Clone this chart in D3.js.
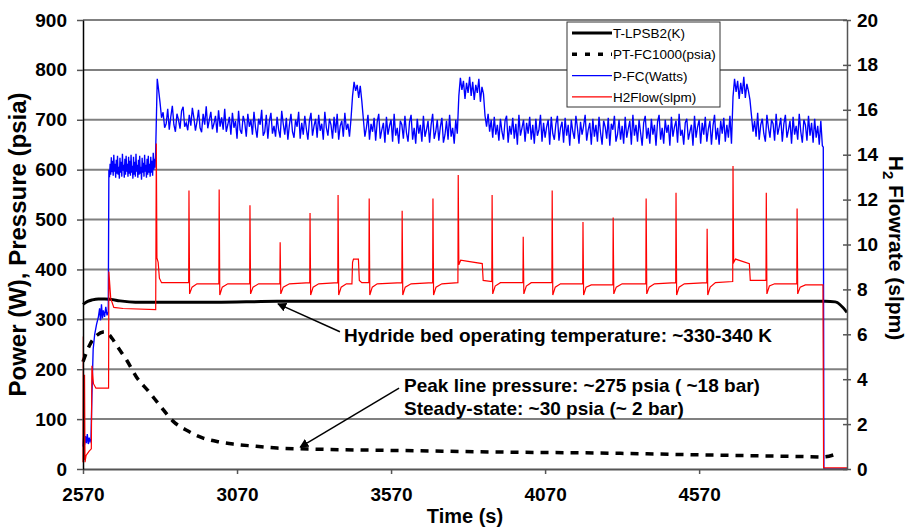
<!DOCTYPE html>
<html>
<head>
<meta charset="utf-8">
<script src="https://cdn.jsdelivr.net/npm/d3@7"></script>
<style>
  body { margin: 0; background: #fff; }
  text { font-family: "Liberation Sans", Arial, sans-serif; }
</style>
</head>
<body>
<div id="container"></div>
<script>
const width = 913;
const height = 529;
const margin = { top: 20, right: 66, bottom: 60, left: 83 };

// axis ticks
const timeTicks = [2570, 3070, 3570, 4070, 4570];
const powerTicks = [0, 100, 200, 300, 400, 500, 600, 700, 800, 900];
const flowTicks = [0, 2, 4, 6, 8, 10, 12, 14, 16, 18, 20];

// T-LPSB2 (K), left axis  [time, value]
const tempK = [
  [2570, 330], [2585, 336], [2600, 339], [2620, 341], [2640, 341], [2660, 340],
  [2690, 337], [2720, 335], [2760, 334], [2800, 334], [2900, 334], [3000, 334],
  [3200, 336], [3600, 336], [4000, 336], [4500, 336], [4980, 336], [5012, 335],
  [5050, 314]
];

// PT-FC1000 (psia), left axis
const linePressure = [
  [2570, 215], [2593, 250], [2615, 268], [2641, 275], [2664, 262], [2680, 247],
  [2713, 217], [2745, 183], [2781, 157], [2820, 127], [2862, 96], [2911, 76],
  [2960, 62], [3015, 54], [3057, 50], [3122, 46], [3200, 42], [3307, 40],
  [3600, 37], [3924, 34], [4249, 32], [4606, 28], [4898, 25], [4970, 24],
  [5015, 30]
];

// P-FC (Watts), left axis: start-up part read as pairs
const powerStart = [
  [2570, 45], [2572, 62], [2575, 48], [2578, 66], [2581, 52], [2584, 70], [2587, 50],
  [2590, 63], [2593, 55], [2596, 60], [2599, 150], [2603, 240], [2608, 270],
  [2614, 290], [2620, 305], [2624, 322], [2627, 298], [2630, 330], [2633, 302],
  [2636, 318], [2640, 305], [2644, 325], [2648, 308], [2652, 315], [2654, 600],
  [2656, 585], [2658, 612], [2660, 590], [2662, 625], [2664, 595], [2666, 618],
  [2668, 588], [2670, 630], [2672, 596], [2674, 612], [2676, 584], [2678, 620],
  [2680, 592], [2682, 628], [2684, 590], [2686, 606], [2688, 582], [2690, 624],
  [2692, 594], [2694, 616], [2696, 586], [2698, 632], [2700, 598], [2702, 610],
  [2704, 584], [2706, 622], [2708, 590], [2710, 628], [2712, 596], [2714, 612],
  [2716, 586], [2718, 626], [2720, 592], [2722, 618], [2724, 588], [2726, 630],
  [2728, 594], [2730, 608], [2732, 582], [2734, 626], [2736, 590], [2738, 616],
  [2740, 586], [2742, 632], [2744, 596], [2746, 610], [2748, 584], [2750, 620],
  [2752, 590], [2754, 628], [2756, 592], [2758, 606], [2760, 580], [2762, 624],
  [2764, 594], [2766, 614], [2768, 586], [2770, 630], [2772, 596], [2774, 610],
  [2776, 584], [2778, 622], [2780, 590], [2782, 628], [2784, 594], [2786, 612],
  [2788, 586], [2790, 626], [2792, 594], [2794, 618], [2796, 588], [2798, 634],
  [2800, 600], [2802, 622], [2804, 604], [2806, 640], [2811, 782], [2815, 762],
  [2820, 735], [2825, 704]
];

// P-FC (Watts), steady running, one reading every 5 s from 2830 s
const powerT0 = 2830;
const powerDt = 5;
const powerRun = [
  715, 684, 692, 722, 680, 706, 728, 690, 676, 712, 700, 682, 718, 726, 686, 694, 679, 710, 688, 724,
  704, 678, 696, 720, 684, 675, 712, 690, 727, 683, 700, 716, 681, 692, 708, 674, 719, 686, 705, 680,
  722, 676, 690, 706, 670, 714, 684, 698, 662, 718, 680, 672, 708, 695, 666, 712, 686, 700, 670, 716,
  684, 664, 702, 690, 720, 668, 676, 710, 662, 698, 714, 672, 688, 666, 706, 680, 664, 718, 692, 670,
  704, 660, 690, 712, 676, 664, 700, 686, 716, 662, 694, 670, 708, 682, 660, 698, 714, 668, 688, 702,
  664, 710, 678, 692, 660, 716, 684, 668, 702, 690, 662, 706, 674, 712, 660, 688, 698, 666, 714, 680,
  692, 666, 702, 748, 776, 758, 770, 744, 768, 738, 702, 666, 684, 710, 660, 692, 676, 704, 658, 696,
  712, 662, 680, 694, 654, 706, 670, 688, 700, 656, 712, 668, 684, 652, 698, 690, 662, 708, 674, 656,
  696, 710, 660, 684, 652, 702, 672, 690, 656, 708, 666, 680, 698, 654, 690, 712, 662, 676, 700, 658,
  686, 704, 654, 670, 698, 660, 710, 666, 684, 652, 700, 672, 748, 784, 760, 778, 742, 774, 754, 786,
  748, 776, 740, 770, 754, 782, 736, 766, 752, 708, 686, 712, 676, 700, 664, 706, 670, 690, 658, 702,
  676, 660, 698, 708, 654, 688, 670, 704, 662, 692, 650, 710, 668, 684, 700, 656, 694, 672, 706, 660,
  690, 652, 702, 668, 680, 710, 656, 694, 664, 686, 700, 650, 706, 672, 660, 692, 708, 658, 684, 696,
  654, 704, 668, 690, 648, 700, 676, 662, 708, 684, 652, 696, 670, 688, 710, 658, 680, 694, 650, 702,
  666, 690, 656, 706, 674, 650, 698, 686, 662, 704, 648, 692, 680, 708, 656, 670, 700, 660, 688, 652,
  706, 664, 682, 698, 650, 710, 668, 690, 656, 700, 674, 648, 694, 708, 662, 684, 652, 702, 670, 690,
  648, 696, 710, 660, 684, 652, 700, 674, 690, 648, 706, 666, 686, 698, 654, 712, 668, 680, 650, 694,
  702, 660, 676, 690, 648, 708, 664, 686, 700, 652, 694, 670, 706, 656, 682, 698, 650, 688, 710, 660,
  684, 650, 698, 672, 704, 656, 690, 664, 708, 652, 746, 782, 756, 778, 742, 774, 752, 786, 744, 772,
  758, 740, 708, 676, 698, 666, 714, 660, 690, 702, 672, 656, 710, 684, 664, 700, 692, 658, 712, 670,
  686, 704, 656, 692, 710, 664, 680, 698, 652, 706, 670, 688, 660, 712, 676, 654, 700, 690, 658, 708,
  668, 694, 654, 702, 664, 688, 650, 698, 648
];

// P-FC (Watts), shut-down
const powerEnd = [[4973, 645], [4975, 0], [5050, 0]];

// H2Flow (slpm), right axis
const h2Flow = [
  [2570, 0.3], [2571, 5.9], [2572.5, 0.4], [2575, 4.2], [2576.5, 0.3], [2580, 0.6],
  [2590, 0.8], [2597, 0.9], [2599, 4.6], [2604, 3.8], [2612, 3.6], [2653, 3.6],
  [2654, 8.8], [2660, 7.6], [2670, 7.2], [2700, 7.15], [2806, 7.1],
  [2808, 14.5], [2810, 9.4], [2814, 9.2], [2818, 8.5], [2825, 8.3], [2913, 8.3],
  [2914, 12.4], [2916, 7.8], [2924, 8.1], [2940, 8.25], [3011, 8.25],
  [3012, 12.45], [3014, 7.75], [3022, 8.1], [3040, 8.25], [3111, 8.25],
  [3112, 11.75], [3114, 7.8], [3122, 8.1], [3140, 8.25], [3209, 8.25],
  [3210, 10.1], [3212, 7.8], [3220, 8.1], [3240, 8.25], [3306, 8.3],
  [3307, 11.4], [3309, 7.75], [3317, 8.1], [3335, 8.25], [3397, 8.3],
  [3398, 12.2], [3400, 7.75], [3408, 8.1], [3425, 8.25], [3443, 8.25],
  [3445, 9.2], [3448, 9.35], [3464, 9.35], [3467, 8.4], [3475, 8.3], [3498, 8.3],
  [3499, 12.05], [3501, 7.75], [3509, 8.1], [3525, 8.25], [3605, 8.3],
  [3606, 11.5], [3608, 7.75], [3616, 8.1], [3635, 8.25], [3705, 8.3],
  [3706, 12.05], [3708, 7.75], [3716, 8.1], [3735, 8.25], [3787, 8.3],
  [3788, 13.1], [3790, 9.1], [3796, 9.3], [3820, 9.25], [3866, 9.15], [3869, 8.4], [3897, 8.35],
  [3898, 12.2], [3900, 7.8], [3908, 8.15], [3925, 8.3], [3998, 8.3],
  [3999, 10.35], [4001, 7.8], [4009, 8.15], [4025, 8.3], [4092, 8.3],
  [4093, 12.4], [4095, 7.75], [4103, 8.1], [4120, 8.25], [4192, 8.25],
  [4193, 11.0], [4195, 7.75], [4203, 8.1], [4220, 8.2], [4290, 8.2],
  [4291, 11.2], [4293, 7.8], [4301, 8.1], [4320, 8.25], [4397, 8.25],
  [4398, 12.05], [4400, 7.8], [4408, 8.1], [4425, 8.25], [4494, 8.3],
  [4495, 12.3], [4497, 7.75], [4505, 8.1], [4522, 8.25], [4595, 8.3],
  [4596, 10.7], [4598, 7.75], [4606, 8.1], [4623, 8.3], [4679, 8.35],
  [4680, 13.5], [4682, 9.2], [4688, 9.35], [4733, 9.15], [4736, 8.4], [4787, 8.4],
  [4788, 12.3], [4790, 7.8], [4798, 8.15], [4815, 8.25], [4887, 8.25],
  [4888, 11.6], [4890, 7.8], [4898, 8.1], [4915, 8.2], [4972, 8.2],
  [4974, 0.05], [5050, 0.05]
];

const legendNames = ["T-LPSB2(K)", "PT-FC1000(psia)", "P-FC(Watts)", "H2Flow(slpm)"];

// annotations in data units
const notes = [
  { lines: ["Hydride bed operating temperature: ~330-340 K"], at: [3417, 255], tail: [3404, 275], tip: [3203, 331] },
  { lines: ["Peak line pressure: ~275 psia ( ~18 bar)", "Steady-state: ~30 psia (~ 2 bar)"], at: [3612, 154], tail: [3596, 162], tip: [3275, 44] }
];

const x = d3.scaleLinear().domain([2570, 5050]).range([margin.left, width - margin.right]);
const yLeft = d3.scaleLinear().domain([0, 900]).range([height - margin.bottom, margin.top]);
const yRight = d3.scaleLinear().domain([0, 20]).range([height - margin.bottom, margin.top]);

const svg = d3.select("#container").append("svg")
  .attr("width", width)
  .attr("height", height);

svg.append("defs").append("marker")
  .attr("id", "arrow")
  .attr("viewBox", "0 0 10 10")
  .attr("refX", 9).attr("refY", 5)
  .attr("markerWidth", 9).attr("markerHeight", 9)
  .attr("markerUnits", "userSpaceOnUse")
  .attr("orient", "auto")
  .append("path")
  .attr("d", "M0,0L10,5L0,10z")
  .attr("fill", "#000");

// gridlines
svg.append("g")
  .selectAll("line")
  .data(powerTicks.filter(d => d > 0))
  .enter().append("line")
  .attr("x1", x(2570)).attr("x2", x(5050))
  .attr("y1", d => yLeft(d)).attr("y2", d => yLeft(d))
  .attr("stroke", "#808080")
  .attr("stroke-width", 2);

// series
const pairLine = (ys, curve) => d3.line()
  .x(d => x(d[0])).y(d => ys(d[1]))
  .curve(curve || d3.curveLinear);

const powerAll = powerStart
  .concat(powerRun.map((v, i) => [powerT0 + i * powerDt, v]))
  .concat(powerEnd);

svg.append("path").datum(tempK)
  .attr("d", pairLine(yLeft, d3.curveMonotoneX))
  .attr("fill", "none").attr("stroke", "#000").attr("stroke-width", 3);

svg.append("path").datum(linePressure)
  .attr("d", pairLine(yLeft, d3.curveMonotoneX))
  .attr("fill", "none").attr("stroke", "#000").attr("stroke-width", 3.5)
  .attr("stroke-dasharray", "8,7");

svg.append("path").datum(powerAll)
  .attr("d", pairLine(yLeft))
  .attr("fill", "none").attr("stroke", "#0000ff").attr("stroke-width", 1.35);

svg.append("path").datum(h2Flow)
  .attr("d", pairLine(yRight))
  .attr("fill", "none").attr("stroke", "#ff0000").attr("stroke-width", 1.2);

// axes
const bold = "bold";
const xAxis = svg.append("g")
  .attr("transform", "translate(0," + (height - margin.bottom) + ")")
  .call(d3.axisBottom(x).tickValues(timeTicks).tickFormat(d3.format("d")).tickSize(5).tickSizeOuter(0).tickPadding(14));
xAxis.select(".domain").attr("stroke", "#555").attr("stroke-width", 2);

const yAxisL = svg.append("g")
  .attr("transform", "translate(" + margin.left + ",0)")
  .call(d3.axisLeft(yLeft).tickValues(powerTicks).tickSize(6).tickSizeOuter(0).tickPadding(10));
yAxisL.select(".domain").attr("stroke", "#000").attr("stroke-width", 1.5);

const yAxisR = svg.append("g")
  .attr("transform", "translate(" + (width - margin.right) + ",0)")
  .call(d3.axisRight(yRight).tickValues(flowTicks).tickSize(4).tickSizeOuter(0).tickPadding(6));
yAxisR.selectAll(".tick line").attr("x1", -4);
yAxisR.select(".domain").attr("stroke", "#555").attr("stroke-width", 1.5);

svg.selectAll(".tick text")
  .attr("font-size", 19)
  .attr("font-weight", bold)
  .attr("font-family", "Liberation Sans, Arial, sans-serif")
  .attr("fill", "#000");
svg.selectAll(".tick line").attr("stroke", "#555").attr("stroke-width", 1.5);

// axis titles
svg.append("text")
  .attr("transform", "translate(26," + ((margin.top + height - margin.bottom) / 2) + ") rotate(-90)")
  .attr("text-anchor", "middle")
  .attr("font-size", 24).attr("font-weight", bold)
  .text("Power (W), Pressure (psia)");

svg.append("text")
  .attr("x", (margin.left + width - margin.right) / 2)
  .attr("y", height - 6)
  .attr("text-anchor", "middle")
  .attr("font-size", 20).attr("font-weight", bold)
  .text("Time (s)");

const rTitle = svg.append("text")
  .attr("transform", "translate(889,248) rotate(90)")
  .attr("text-anchor", "middle")
  .attr("font-size", 21).attr("font-weight", bold);
rTitle.append("tspan").text("H");
rTitle.append("tspan").attr("font-size", 15).attr("dy", 6).text("2");
rTitle.append("tspan").attr("dy", -6).text(" Flowrate (slpm)");

// annotations
notes.forEach(n => {
  svg.append("line")
    .attr("x1", x(n.tail[0])).attr("y1", yLeft(n.tail[1]))
    .attr("x2", x(n.tip[0])).attr("y2", yLeft(n.tip[1]))
    .attr("stroke", "#000").attr("stroke-width", 1.5)
    .attr("marker-end", "url(#arrow)");
  svg.append("g").selectAll("text")
    .data(n.lines)
    .enter().append("text")
    .attr("x", x(n.at[0]))
    .attr("y", (d, i) => yLeft(n.at[1]) + i * 23)
    .attr("font-size", 19).attr("font-weight", bold)
    .text(d => d);
});

// legend
const legend = svg.append("g").attr("transform", "translate(567,22)");
legend.append("rect")
  .attr("width", 153).attr("height", 85)
  .attr("fill", "#fff").attr("stroke", "#333").attr("stroke-width", 1);
const legendStyle = [
  { color: "#000", w: 3, dash: null },
  { color: "#000", w: 3.5, dash: "5,8" },
  { color: "#0000ff", w: 1.2, dash: null },
  { color: "#ff0000", w: 1.2, dash: null }
];
const rows = legend.selectAll("g.row")
  .data(legendNames)
  .enter().append("g")
  .attr("class", "row")
  .attr("transform", (d, i) => "translate(0," + (11 + i * 21.3) + ")");
rows.append("line")
  .attr("x1", 5).attr("x2", 45)
  .attr("stroke", (d, i) => legendStyle[i].color)
  .attr("stroke-width", (d, i) => legendStyle[i].w)
  .attr("stroke-dasharray", (d, i) => legendStyle[i].dash);
rows.append("text")
  .attr("x", 46).attr("y", 5)
  .attr("font-size", 13.5)
  .text(d => d);
</script>
</body>
</html>
